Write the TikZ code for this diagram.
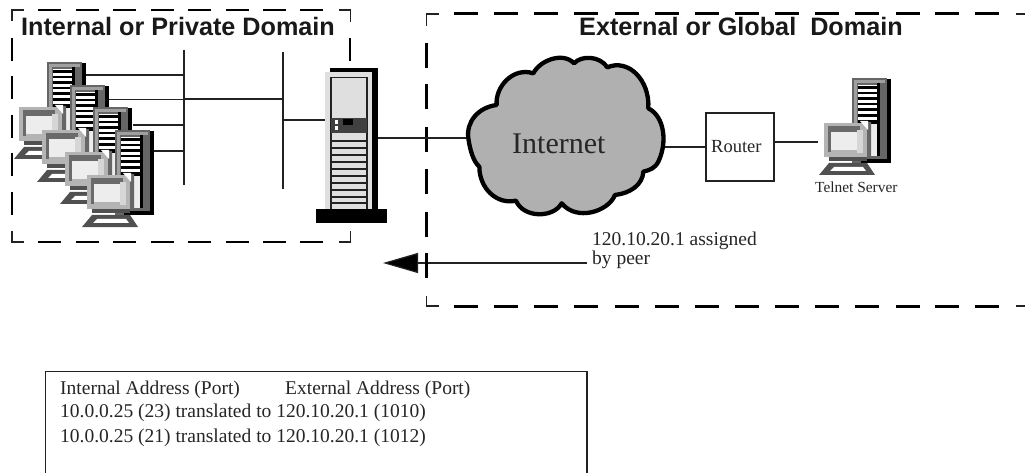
\documentclass[tikz,border=0pt]{standalone}
\usepackage{fontspec}
\setmainfont{Liberation Serif}
\newfontfamily\headfont{Liberation Sans}
\usetikzlibrary{arrows.meta}
\definecolor{towerdark}{HTML}{666666}
\definecolor{framegrey}{HTML}{A0A0A0}
\definecolor{montop}{HTML}{6A6A6A}
\definecolor{monlight}{HTML}{B4B4B4}
\definecolor{scr}{HTML}{EDEDED}
\definecolor{basegrey}{HTML}{505050}
\definecolor{cloudgrey}{HTML}{B0B0B0}
\definecolor{srvlight}{HTML}{DFDFDF}
\definecolor{linecol}{HTML}{222222}
\tikzset{
  wire/.style={draw=linecol,line width=1.2pt},
  dashpiece/.style={draw=black,line width=2.4pt},
  cornerpiece/.style={draw=linecol,line width=1.2pt},
  title/.style={font=\headfont\bfseries\fontsize{25.2}{27}\selectfont,anchor=base west,inner sep=0pt,text=black!90},
  body/.style={font=\fontsize{19.5}{21}\selectfont,anchor=base west,inner sep=0pt,text=black!85},
  wstation/.pic={
    % tower
    \fill[towerdark] (0,0) rectangle (35,85);
    \fill[black] (35,1) rectangle (39,85);
    \fill[black] (9,81) rectangle (39,85);
    \fill[framegrey] (2,2) rectangle (33,5);
    \fill[framegrey] (2,2) rectangle (5,50);
    \fill[white] (6,7) rectangle (25,50);
    \foreach \s in {0,...,6}{\fill[black] (6,{8+\s*5.6}) rectangle (25,{10.6+\s*5.6});}
    \fill[black] (6,42) rectangle (25,46);
    \fill[scr] (6,46) rectangle (25,78);
    \fill[black] (25,5) rectangle (27.5,78);
    % monitor
    \fill[towerdark] (10,44) -- (19,44) -- (19,81) -- (-10,81) -- cycle;
    \fill[monlight] (-28,45) -- (15,45) -- (15,79) -- (-28,79) -- cycle;
    \fill[white] (8,43) -- (16,43) -- (16,52) -- cycle;
    \fill[montop] (-24,48) rectangle (8,54);
    \fill[montop] (-24,48) rectangle (-21,74);
    \fill[scr] (-21,54) rectangle (5,72);
    \fill[monlight!55] (5,52) rectangle (11,75);
    \fill[basegrey] (-23,79) rectangle (15,83);
    % base
    \fill[basegrey] (-33,97) -- (-23,85) -- (15,85) -- (23,97) -- cycle;
    \fill[white] (-22,93) -- (-18,89) -- (11,89) -- (14,93) -- cycle;
  }
}
\begin{document}
\begin{tikzpicture}[x=1pt,y=-1pt]
\useasboundingbox (0,0) rectangle (1025,473);
\fill[white] (0,0) rectangle (1025,473);

% ---- internal domain dashed frame
\draw[cornerpiece] (12,21) -- (12,10) -- (24,10);
\draw[cornerpiece] (339,10) -- (350.5,10) -- (350.5,22);
\draw[cornerpiece] (12,231) -- (12,242) -- (24,242);
\draw[cornerpiece] (339,242) -- (350.5,242) -- (350.5,231);
\foreach \x in {38,76,113,151,188,226,263,300}{
  \draw[dashpiece] (\x,10) -- ++(23,0);
  \draw[dashpiece] (\x,242) -- ++(23,0);
}
\foreach \y in {38,76,115,153,192}{
  \draw[dashpiece] (12,\y) -- ++(0,23);
  \draw[dashpiece] (350,\y) -- ++(0,23);
}

% ---- external domain dashed frame
\draw[cornerpiece] (426.5,26) -- (426.5,14) -- (439,14);
\draw[cornerpiece] (426.5,296) -- (426.5,306) -- (439,306);
\foreach \x in {454,494,534,574,615,655,695,735,775,815,855,896,935,975}{
  \draw[dashpiece] (\x,13.5) -- ++(24,0);
  \draw[dashpiece] (\x,306.5) -- ++(24,0);
}
\draw[cornerpiece] (1016,14) -- (1025,14);
\draw[cornerpiece] (1016,306) -- (1025,306);
\foreach \y in {43,84,127,169,212}{
  \draw[dashpiece] (426.5,\y) -- ++(0,25);
}

% ---- titles
\node[title] (inttitle) at (21,36) {Internal or Private Domain};
\node[title] (exttitle) at (579,36) {External or Global\ \ Domain};

% ---- buses and connectors
\coordinate (bus1t) at (184,50);
\coordinate (bus1b) at (184,185);
\coordinate (bus2t) at (283,52);
\coordinate (bus2b) at (283,189);
\coordinate (p1) at (83,75);
\coordinate (p2) at (107,99.5);
\coordinate (p3) at (133,125);
\coordinate (p4) at (150,151);
\coordinate (srvL) at (325,120);
\coordinate (srvR) at (378,138);
\coordinate (cloudL) at (467,138);
\coordinate (cloudR) at (665,147);
\coordinate (telnetL) at (818,142);
\draw[wire] (bus1t) -- (bus1b);
\draw[wire] (bus2t) -- (bus2b);
\foreach \p in {p1,p2,p3,p4}{\draw[wire] (\p) -- (\p -| bus1t);}
\draw[wire] (bus1t |- 0,99) -- (bus2t |- 0,99);
\draw[wire] (srvL) -- (srvL -| bus2t);
\draw[wire] (srvR) -- (cloudL);

% ---- workstations
\pic (wsA) at (47,62) {wstation};
\pic (wsB) at (70,85) {wstation};
\pic (wsC) at (93,107) {wstation};
\pic (wsD) at (115,130) {wstation};
\pic (wsT) at (852,78) {wstation};

% ---- server
\fill[black] (330,68) rectangle (378,210);
\fill[srvlight] (325,72) rectangle (372,210);
\draw[draw=linecol,line width=1.2pt,fill=srvlight] (331,77.5) rectangle (367,210);
\fill[black!75] (331,118) rectangle (367,133);
\fill[white] (334.5,120.5) rectangle (338,124);
\fill[white] (334.5,126.5) rectangle (338,130);
\fill[black] (343,119) rectangle (353,125);
\foreach \y in {141,148,155,162,169,176,183,190,197,203}{
  \draw[linecol,line width=1.2pt] (331,\y) -- (367,\y);
}
\fill[black] (316,209) rectangle (387,223);

% ---- cloud
\begin{scope}[shift={(450,30)},x=0.3333pt,y=-0.3333pt]
\draw[black,line width=4.3pt,fill=cloudgrey,line join=round]
 (55,325)
 .. controls (48,275) and (85,232) .. (140,225)
 .. controls (135,170) and (190,110) .. (250,130)
 .. controls (270,90) and (340,65) .. (372,100)
 .. controls (395,75) and (450,78) .. (472,112)
 .. controls (535,85) and (600,150) .. (595,235)
 .. controls (645,260) and (652,340) .. (625,395)
 .. controls (615,415) and (600,420) .. (580,425)
 .. controls (578,465) and (540,490) .. (495,495)
 .. controls (475,545) and (380,575) .. (335,520)
 .. controls (310,565) and (220,565) .. (198,512)
 .. controls (140,525) and (88,475) .. (88,410)
 .. controls (70,395) and (60,360) .. (55,325) -- cycle;
\end{scope}
\node[font=\fontsize{30}{32}\selectfont,anchor=base west,inner sep=0pt,text=black!85] (inet) at (512,154) {Internet};

% ---- router and telnet
\node[draw=linecol,line width=1.2pt,minimum width=68pt,minimum height=68pt,inner sep=0pt] (router) at (740,147) {};
\node[font=\fontsize{18.5}{20}\selectfont,anchor=base west,inner sep=0pt,text=black!85] (routerlab) at (711,153) {Router};
\draw[wire] (cloudR) -- (router.west |- cloudR);
\draw[wire] (router.east |- telnetL) -- (telnetL);
\node[body,font=\fontsize{15.4}{17}\selectfont] (telnetlab) at (815,192.5) {Telnet Server};

% ---- assigned by peer
\node[body] (assigned) at (592,245) {120.10.20.1 assigned};
\node[body] (bypeer) at (592,264) {by peer};
\coordinate (arrstart) at (587,263);
\coordinate (arrend) at (383,263);
\draw[wire,-{Triangle[length=35pt,width=20pt,fill=black]}] (arrstart) -- (arrend);
\draw[dashpiece] (426.5,253) -- ++(0,25);

% ---- table
\draw[draw=linecol,line width=1.2pt] (45.5,474) -- (45.5,371.5) -- (587,371.5) -- (587,474);
\node[body] (h1) at (60,394) {Internal Address (Port)};
\node[body] (h2) at (285,394) {External Address (Port)};
\node[body] (r1) at (60,417) {10.0.0.25 (23) translated to 120.10.20.1 (1010)};
\node[body] (r2) at (60,442) {10.0.0.25 (21) translated to 120.10.20.1 (1012)};
\end{tikzpicture}
\end{document}
